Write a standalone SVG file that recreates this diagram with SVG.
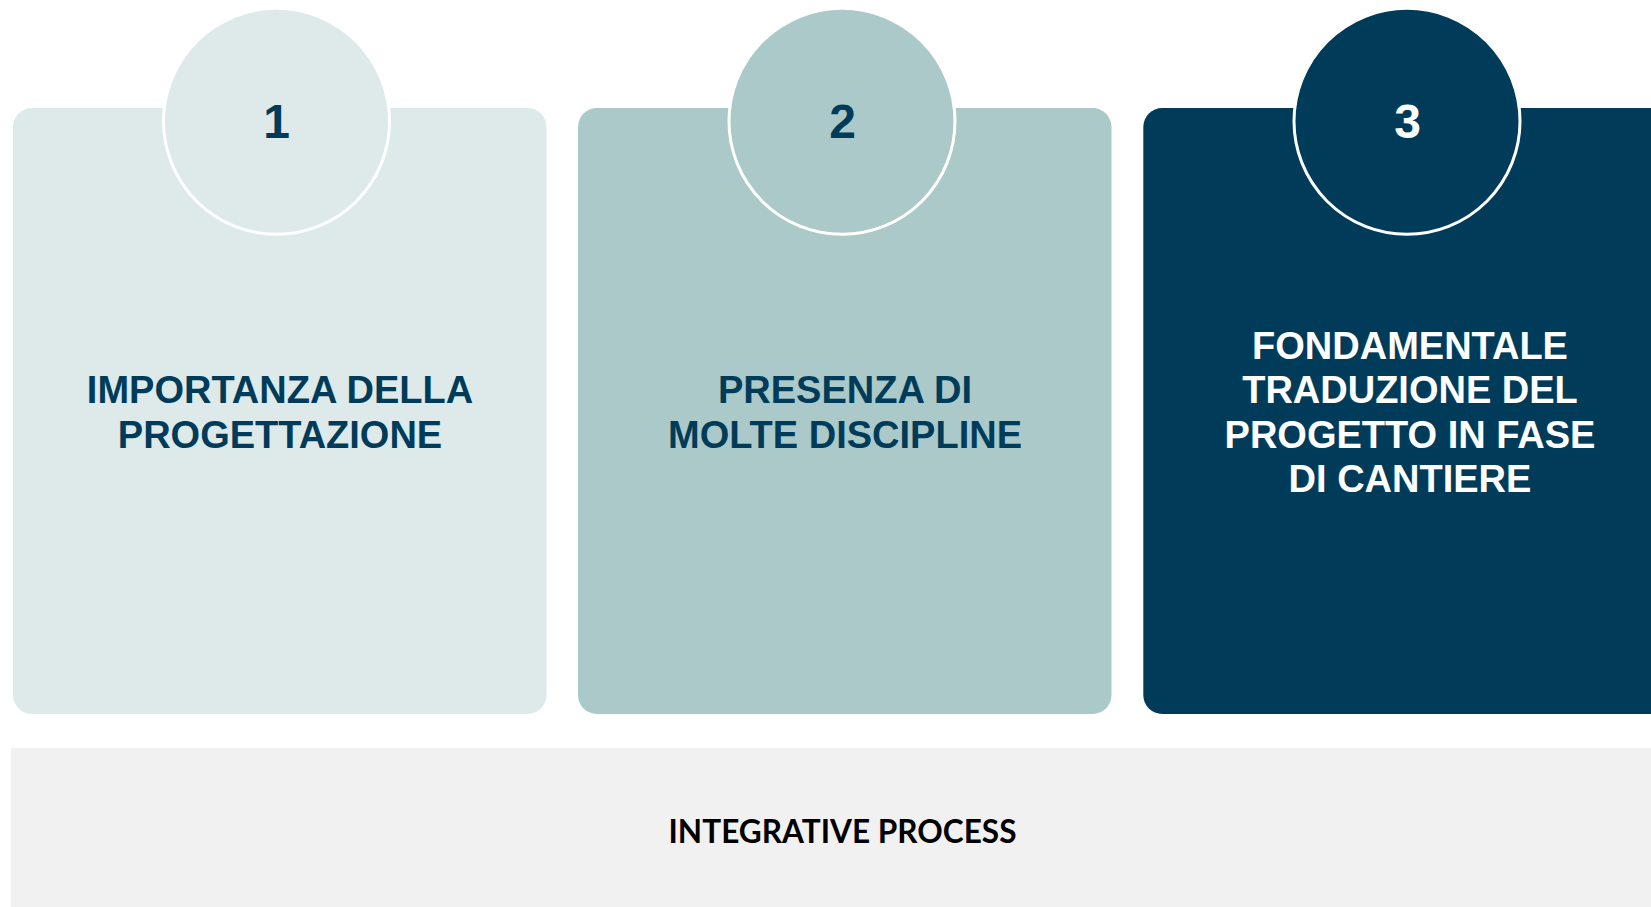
<svg xmlns="http://www.w3.org/2000/svg" width="1651" height="907" viewBox="0 0 1651 907">
  <style>
    .card-title { font-family: "Liberation Sans", Arial, sans-serif; font-weight: bold; font-size: 38px; text-anchor: middle; }
    .num { font-family: "Liberation Sans", Arial, sans-serif; font-weight: bold; font-size: 48px; text-anchor: middle; }
    .dark { fill: #003c5a; }
    .light { fill: #ffffff; }
    .badge { stroke: #ffffff; stroke-width: 3; }
    .band-label { font-family: "Lato", "Open Sans", sans-serif; font-weight: bold; font-size: 32px; text-anchor: middle; fill: #000000; }
  </style>

  <rect x="0" y="0" width="1651" height="907" fill="#ffffff"/>

  <!-- bottom band -->
  <g id="band">
    <rect x="11" y="748" width="1650" height="159" fill="#f1f1f1"/>
    <text class="band-label" x="842.5" y="842.5" textLength="348" lengthAdjust="spacingAndGlyphs">INTEGRATIVE PROCESS</text>
  </g>

  <!-- step 1 -->
  <g id="step1">
    <rect x="13" y="108" width="533.5" height="606" rx="19" fill="#deeaea"/>
    <circle class="badge" cx="276.5" cy="121.3" r="113" fill="#deeaea"/>
    <text class="num dark" x="276.5" y="137.5">1</text>
    <text class="card-title dark" x="280" y="403">IMPORTANZA DELLA</text>
    <text class="card-title dark" x="280" y="447.5">PROGETTAZIONE</text>
  </g>

  <!-- step 2 -->
  <g id="step2">
    <rect x="578" y="108" width="533.5" height="606" rx="19" fill="#abc9c8"/>
    <circle class="badge" cx="842" cy="121.3" r="113" fill="#abc9c8"/>
    <text class="num dark" x="842.5" y="137.5">2</text>
    <text class="card-title dark" x="845" y="403">PRESENZA DI</text>
    <text class="card-title dark" x="845" y="447.5">MOLTE DISCIPLINE</text>
  </g>

  <!-- step 3 -->
  <g id="step3">
    <rect x="1143.3" y="108" width="560" height="606" rx="19" fill="#003c5a"/>
    <circle class="badge" cx="1407" cy="121.3" r="113" fill="#003c5a"/>
    <text class="num light" x="1407.5" y="137.5">3</text>
    <text class="card-title light" x="1410" y="358.5">FONDAMENTALE</text>
    <text class="card-title light" x="1410" y="403">TRADUZIONE DEL</text>
    <text class="card-title light" x="1410" y="447.5">PROGETTO IN FASE</text>
    <text class="card-title light" x="1410" y="492">DI CANTIERE</text>
  </g>

  <g id="connectors"/>
</svg>
